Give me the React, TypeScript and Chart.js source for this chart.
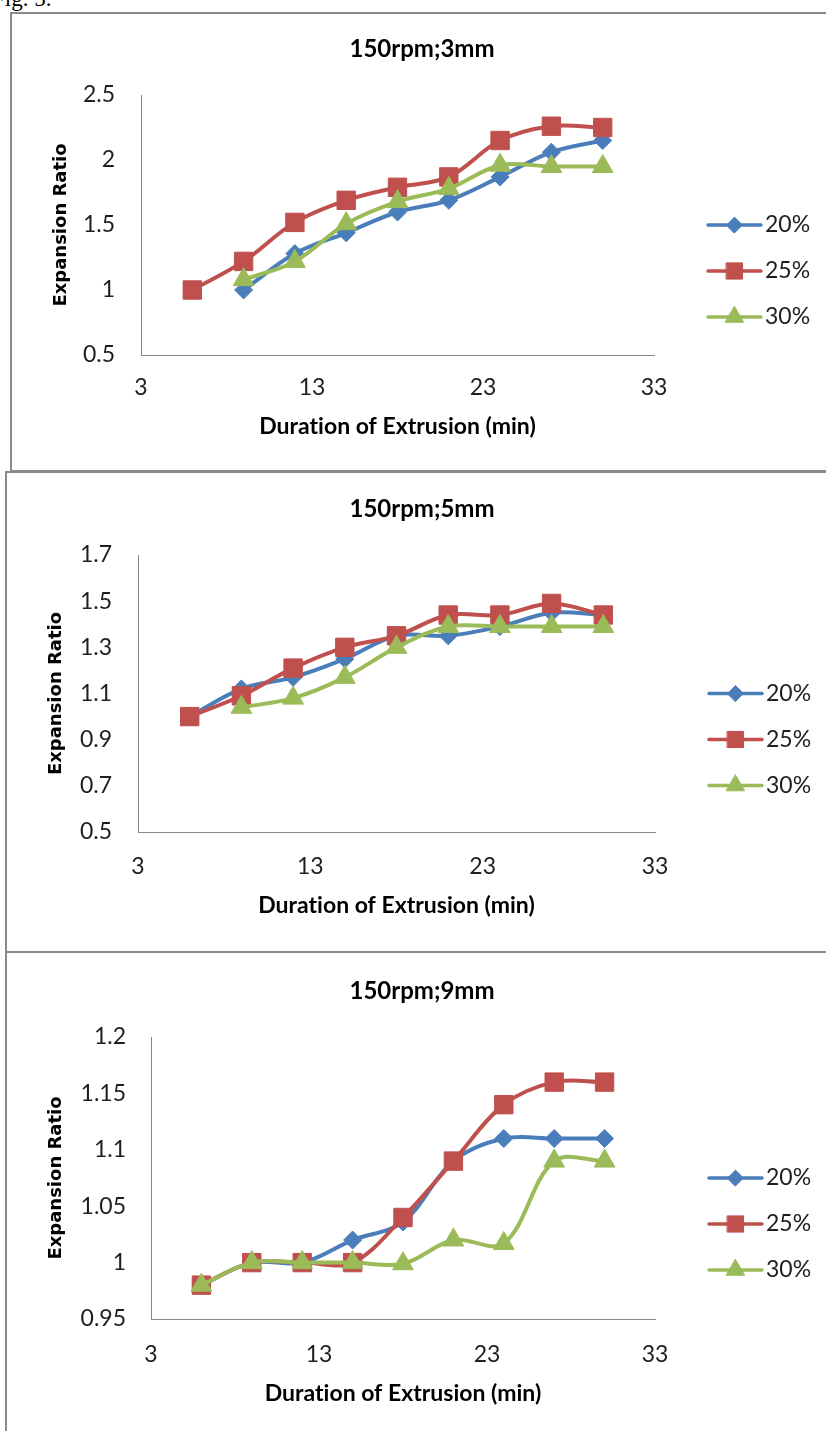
import React, { useEffect, useRef } from 'react';
import { Chart, registerables } from 'chart.js';
import { drawPoint } from 'chart.js/helpers';

Chart.register(...registerables);

// Sampling times (min) shared by every series
const TIMES = [6, 9, 12, 15, 18, 21, 24, 27, 30];
const SERIES_LABELS = ['20%', '25%', '30%'];
const X_TICKS = [3, 13, 23, 33];
const TITLES = ['150rpm;3mm', '150rpm;5mm', '150rpm;9mm'];

// 150rpm;3mm
const R3_20 = [null, 1.0, 1.28, 1.44, 1.6, 1.69, 1.87, 2.06, 2.15];
const R3_25 = [1.0, 1.22, 1.52, 1.69, 1.79, 1.87, 2.15, 2.26, 2.25];
const R3_30 = [null, 1.08, 1.22, 1.51, 1.68, 1.78, 1.96, 1.95, 1.95];
const Y_TICKS_3 = [0.5, 1, 1.5, 2, 2.5];

// 150rpm;5mm
const R5_20 = [1.0, 1.12, 1.17, 1.25, 1.35, 1.35, 1.39, 1.45, 1.44];
const R5_25 = [1.0, 1.09, 1.21, 1.3, 1.35, 1.44, 1.44, 1.49, 1.44];
const R5_30 = [null, 1.04, 1.08, 1.17, 1.3, 1.39, 1.39, 1.39, 1.39];
const Y_TICKS_5 = [0.5, 0.7, 0.9, 1.1, 1.3, 1.5, 1.7];

// 150rpm;9mm
const R9_20 = [0.98, 1.0, 1.0, 1.02, 1.036, 1.09, 1.11, 1.11, 1.11];
const R9_25 = [0.98, 1.0, 1.0, 1.0, 1.04, 1.09, 1.14, 1.16, 1.16];
const R9_30 = [0.98, 1.0, 1.0, 1.0, 0.999, 1.02, 1.017, 1.09, 1.09];
const Y_TICKS_9 = [0.95, 1, 1.05, 1.1, 1.15, 1.2];

const PANEL_SERIES = [
  [R3_20, R3_25, R3_30],
  [R5_20, R5_25, R5_30],
  [R9_20, R9_25, R9_30],
];
const PANEL_Y_TICKS = [Y_TICKS_3, Y_TICKS_5, Y_TICKS_9];

const COLORS = ['#4A7EBB', '#C0504D', '#9BBB59'];
const POINT_STYLES = ['rectRot', 'rect', 'triangle'];
const POINT_RADII = [9, 13, 12];
const LINE_WIDTH = 4;

const PAGE_W = 826;
const TICK_FONT = { family: 'Lato', size: 23 };
const TEXT_COLOR = '#1e1e1e';
const AXIS_COLOR = '#878787';

// Page-space geometry for each panel (canvas top/height and plot area edges)
const LAYOUT = [
  { top: 14, height: 456, chartTop: 95, chartBottom: 355, chartLeft: 141, chartRight: 654, yTickPad: 26, xTickPad: 19, xTitleOffset: 72, yTitlePad: 51 },
  { top: 474, height: 476, chartTop: 555, chartBottom: 832, chartLeft: 138, chartRight: 655, yTickPad: 26, xTickPad: 21, xTitleOffset: 74, yTitlePad: 46 },
  { top: 954, height: 477, chartTop: 1037, chartBottom: 1319, chartLeft: 151, chartRight: 655, yTickPad: 25, xTickPad: 22, xTitleOffset: 75, yTitlePad: 46 },
];

const FRAMES = [
  { left: 10, top: 12, width: 900, height: 460 },
  { left: 5, top: 471, width: 900, height: 482 },
  { left: 5, top: 951, width: 900, height: 600 },
];

// Plain glyph shaping (no optional ligatures) for all chart text
const plainTextPlugin = {
  id: 'plainText',
  beforeDraw(chart: any) {
    (chart.ctx as any).textRendering = 'optimizeSpeed';
  },
};

// Chart title plus an Excel-style legend (line with marker) to the right of the plot
const decorPlugin = {
  id: 'decor',
  afterDraw(chart: any, _args: any, opts: any) {
    const { ctx, chartArea } = chart;
    ctx.save();
    ctx.fillStyle = '#000';
    ctx.font = 'bold 24px Lato';
    ctx.textAlign = 'center';
    ctx.textBaseline = 'alphabetic';
    ctx.fillText(opts.title, opts.titleX, chartArea.top - 38);

    const midY = (chartArea.top + chartArea.bottom) / 2;
    chart.data.datasets.forEach((ds: any, i: number) => {
      const y = midY + i * 46;
      const x0 = chartArea.right + 54;
      const x1 = x0 + 53;
      ctx.strokeStyle = ds.borderColor;
      ctx.lineWidth = 3.5;
      ctx.lineCap = 'round';
      ctx.beginPath();
      ctx.moveTo(x0, y);
      ctx.lineTo(x1, y);
      ctx.stroke();
      ctx.fillStyle = ds.backgroundColor;
      ctx.lineWidth = 1;
      drawPoint(ctx, { pointStyle: ds.pointStyle, radius: ds.pointRadius * 0.88, rotation: 0, borderWidth: 1 }, (x0 + x1) / 2, y);
      ctx.fillStyle = TEXT_COLOR;
      ctx.font = '23px Lato';
      ctx.textAlign = 'left';
      ctx.textBaseline = 'middle';
      ctx.fillText(ds.label, x1 + 4, y);
    });
    ctx.restore();
  },
};

function makeConfig(index: number): any {
  const p = LAYOUT[index];
  const yTicks = PANEL_Y_TICKS[index];
  const chartBottom = p.chartBottom - p.top;
  const xAxisH = p.height - chartBottom;
  const xTitleSize = 23;
  const xTitlePadBottom = xAxisH - p.xTitleOffset - (xTitleSize * 1.2) / 2;

  const datasets = PANEL_SERIES[index].map((vals, i) => ({
    label: SERIES_LABELS[i],
    data: TIMES.map((t, j) => ({ x: t, y: vals[j] })).filter((d) => d.y !== null),
    borderColor: COLORS[i],
    backgroundColor: COLORS[i],
    borderWidth: LINE_WIDTH,
    pointStyle: POINT_STYLES[i],
    pointRadius: POINT_RADII[i],
    pointBorderWidth: 1,
    pointBorderColor: COLORS[i],
    pointBackgroundColor: COLORS[i],
    tension: 0.35,
    fill: false,
    clip: false,
    order: 2 - i,
  }));

  return {
    type: 'line',
    data: { datasets },
    options: {
      responsive: false,
      animation: false,
      events: [],
      layout: { padding: { left: 0, right: PAGE_W - p.chartRight, top: p.chartTop - p.top, bottom: 0 } },
      plugins: {
        legend: { display: false },
        tooltip: { enabled: false },
        title: { display: false },
        decor: { title: TITLES[index], titleX: 422 },
      },
      scales: {
        x: {
          type: 'linear',
          min: X_TICKS[0],
          max: X_TICKS[X_TICKS.length - 1],
          afterBuildTicks: (scale: any) => {
            scale.ticks = X_TICKS.map((v) => ({ value: v }));
          },
          afterFit: (scale: any) => {
            scale.height = xAxisH;
          },
          grid: { display: false, drawTicks: false },
          border: { display: true, color: AXIS_COLOR, width: 1 },
          ticks: { font: TICK_FONT, color: TEXT_COLOR, padding: p.xTickPad, callback: (v: number) => String(v), maxRotation: 0, autoSkip: false },
          title: {
            display: true,
            text: 'Duration of Extrusion (min)',
            font: { family: 'Lato', size: xTitleSize, weight: 'bold' },
            color: '#000',
            padding: { top: 0, bottom: xTitlePadBottom },
          },
        },
        y: {
          type: 'linear',
          min: yTicks[0],
          max: yTicks[yTicks.length - 1],
          afterBuildTicks: (scale: any) => {
            scale.ticks = yTicks.map((v) => ({ value: v }));
          },
          afterFit: (scale: any) => {
            scale.width = p.chartLeft;
          },
          grid: { display: false, drawTicks: false },
          border: { display: true, color: AXIS_COLOR, width: 1 },
          ticks: { font: TICK_FONT, color: TEXT_COLOR, padding: p.yTickPad, callback: (v: number) => String(v), autoSkip: false },
          title: {
            display: true,
            text: 'Expansion Ratio',
            font: { family: 'DejaVu Sans', size: 18, weight: 'bold' },
            color: '#000',
            padding: { top: p.yTitlePad, bottom: 0 },
          },
        },
      },
    },
    plugins: [plainTextPlugin, decorPlugin],
  };
}

function Panel({ index }: { index: number }) {
  const ref = useRef<HTMLCanvasElement>(null);
  const p = LAYOUT[index];
  useEffect(() => {
    const chart = new Chart(ref.current as HTMLCanvasElement, makeConfig(index));
    return () => chart.destroy();
  }, [index]);
  return (
    <canvas
      ref={ref}
      width={PAGE_W}
      height={p.height}
      style={{ position: 'absolute', left: 0, top: p.top, width: PAGE_W, height: p.height }}
    />
  );
}

export default function App() {
  return (
    <div style={{ position: 'absolute', left: 0, top: 0, width: PAGE_W, height: 1431, overflow: 'hidden', background: '#fff' }}>
      <div
        style={{
          position: 'absolute',
          left: -8,
          top: -13,
          fontFamily: '"Liberation Serif", serif',
          fontSize: 23,
          lineHeight: '24px',
          color: '#000',
          whiteSpace: 'nowrap',
        }}
      >
        Fig. 5.
      </div>
      {FRAMES.map((f, i) => (
        <div
          key={i}
          style={{
            position: 'absolute',
            left: f.left,
            top: f.top,
            width: f.width,
            height: f.height,
            border: '2px solid #8a8a8a',
            boxSizing: 'border-box',
          }}
        />
      ))}
      {LAYOUT.map((_, i) => (
        <Panel key={i} index={i} />
      ))}
    </div>
  );
}
